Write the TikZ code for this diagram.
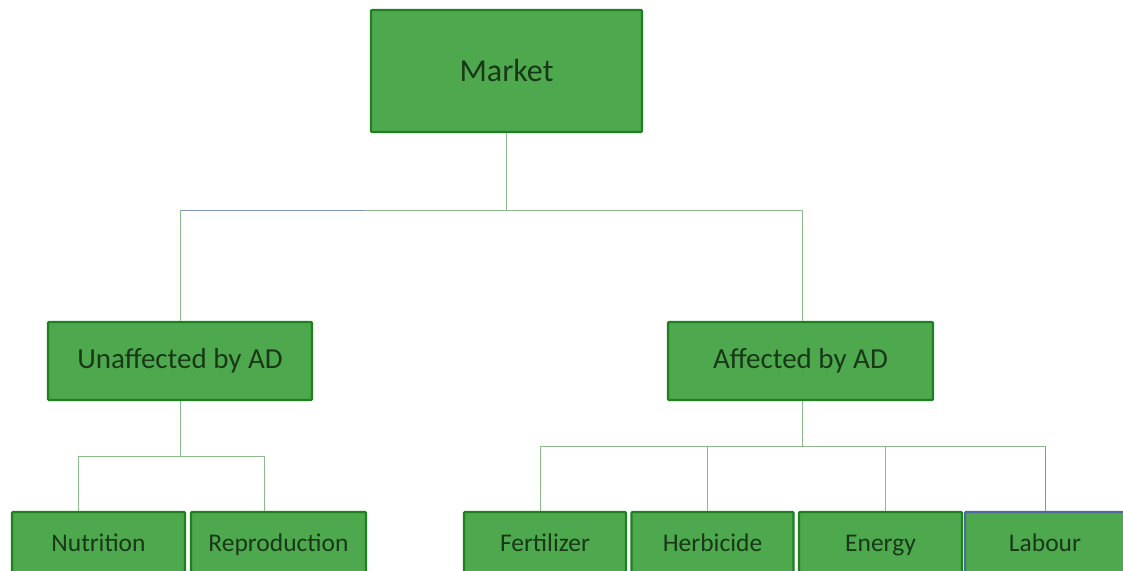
\documentclass[tikz,border=0pt]{standalone}
\usepackage{fontspec}
\setmainfont{Carlito}
\definecolor{boxfill}{HTML}{4EA84E}
\definecolor{boxedge}{HTML}{1F801F}
\definecolor{boxtext}{HTML}{183818}
\definecolor{linkgreen}{HTML}{8DBA8D}
\definecolor{linkblue}{HTML}{7F95B5}
\definecolor{edgeblue}{HTML}{4A6A9A}
\tikzset{
  x=1pt, y=-1pt,
  box/.style={draw=boxedge, line width=2.4pt, fill=boxfill, rounded corners=1pt, text=boxtext},
  link/.style={draw=linkgreen, line width=1pt},
  linkb/.style={draw=linkblue, line width=1pt},
}
\begin{document}
\begin{tikzpicture}
\useasboundingbox (0,0) rectangle (1123,570);
\clip (0,0) rectangle (1123,570);

% top level
\node[box, minimum width=271pt, minimum height=122pt, font=\fontsize{32}{36}\selectfont] (market) at (506.5,71) {Market};

% second level
\node[box, minimum width=264pt, minimum height=78pt, font=\fontsize{29}{33}\selectfont] (unaff) at (180,361) {Unaffected by AD};
\node[box, minimum width=265pt, minimum height=78pt, font=\fontsize{29}{33}\selectfont] (aff) at (800.5,361) {Affected by AD};

% third level (runs past the lower edge)
\tikzset{leaf/.style={box, minimum height=70pt}}
\node[leaf, minimum width=173pt] (nutr) at (98.5,547) {};
\node[leaf, minimum width=175pt] (repr) at (278.5,547) {};
\node[leaf, minimum width=162pt] (fert) at (545,547) {};
\node[leaf, minimum width=162pt] (herb) at (712.5,547) {};
\node[leaf, minimum width=163pt] (ener) at (880.5,547) {};
\node[leaf, minimum width=160pt, draw=edgeblue] (labo) at (1045,547) {};

\tikzset{lbl/.style={text=boxtext, anchor=base, font=\fontsize{25.5}{29}\selectfont}}
\node[lbl] (tnutr) at (98.5,551) {Nutrition};
\node[lbl] (trepr) at (278.5,551) {Reproduction};
\node[lbl] (tfert) at (545,551) {Fertilizer};
\node[lbl] (therb) at (712.5,551) {Herbicide};
\node[lbl] (tener) at (880.5,551) {Energy};
\node[lbl] (tlabo) at (1045,551) {Labour};

% junction points
\coordinate (jtop) at (506,210);
\coordinate (jl) at (180,210);
\coordinate (jr) at (802,210);
\coordinate (jul) at (180,456);
\coordinate (jal) at (802,446);

% market branches
\draw[link] (market.south -| jtop) -- (jtop);
\draw[linkb] (jl) -- (365,210);
\draw[link] (365,210) -- (jr);
\draw[link] (jl) -- (unaff.north -| jl);
\draw[link] (jr) -- (aff.north -| jr);

% unaffected branches
\draw[link] (unaff.south -| jul) -- (jul);
\draw[link] (78,456) -- (264,456);
\draw[link] (78,456) -- (nutr.north -| 78,0);
\draw[link] (264,456) -- (repr.north -| 264,0);

% affected branches
\draw[link] (aff.south -| jal) -- (jal);
\draw[link] (540,446) -- (1045,446);
\draw[link] (540,446) -- (fert.north -| 540,0);
\draw[link] (707,446) -- (herb.north -| 707,0);
\draw[link] (885,446) -- (ener.north -| 885,0);
\draw[linkb] (1045,446) -- (labo.north -| 1045,0);
\end{tikzpicture}
\end{document}
